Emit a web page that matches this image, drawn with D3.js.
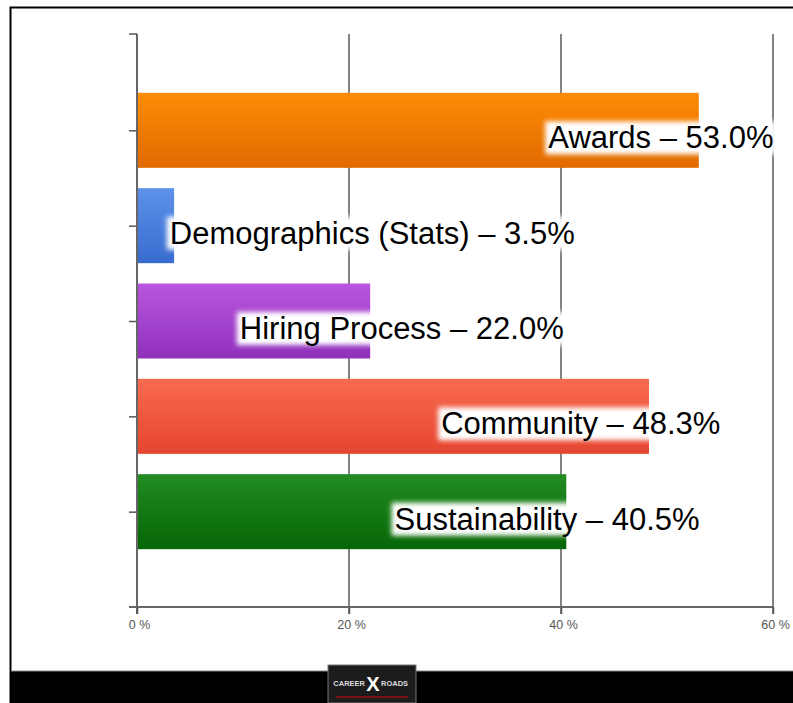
<!DOCTYPE html>
<html>
<head>
<meta charset="utf-8">
<script src="https://cdn.jsdelivr.net/npm/d3@7/dist/d3.min.js"></script>
<style>
  body { margin: 0; background: #fff; }
  svg { display: block; }
</style>
</head>
<body>
<div id="main"></div>
<script>
// data
var categories = ["Awards", "Demographics (Stats)", "Hiring Process", "Community", "Sustainability"];
var values = [53.0, 3.5, 22.0, 48.3, 40.5];
// where each label starts, in % units
var labelStart = [38.8, 3.1, 9.7, 28.7, 24.3];
var xTicks = [0, 20, 40, 60];
var topColors = ["#ff8c05", "#5d92ea", "#b856df", "#f96a50", "#228c22"];
var bottomColors = ["#e06a00", "#386bcf", "#9130bb", "#e5452e", "#056605"];

var width = 793,
    height = 703;

var svg = d3.select("#main").append("svg")
    .attr("width", width)
    .attr("height", height);

var defs = svg.append("defs");

defs.append("filter")
    .attr("id", "glow")
    .attr("x", "-20%").attr("y", "-40%")
    .attr("width", "140%").attr("height", "180%")
    .append("feGaussianBlur")
    .attr("stdDeviation", 2.5);

categories.forEach(function(c, i) {
    var g = defs.append("linearGradient")
        .attr("id", "grad" + i)
        .attr("x1", 0).attr("y1", 0)
        .attr("x2", 0).attr("y2", 1);
    g.append("stop").attr("offset", "0%").attr("stop-color", topColors[i]);
    g.append("stop").attr("offset", "100%").attr("stop-color", bottomColors[i]);
});

// frame
svg.append("rect")
    .attr("x", 10.5).attr("y", 7.5)
    .attr("width", 800).attr("height", 700)
    .attr("fill", "#fff")
    .attr("stroke", "#000")
    .attr("stroke-width", 2);

var x = d3.scaleLinear().domain([0, 60]).range([137, 773]);
var y = d3.scalePoint().domain(categories).range([35, 607]).padding(1);
var barH = 75;

// grid lines
svg.selectAll(".grid")
    .data(xTicks.slice(1))
    .enter().append("line")
    .attr("class", "grid")
    .attr("x1", function(d) { return x(d); })
    .attr("x2", function(d) { return x(d); })
    .attr("y1", 34)
    .attr("y2", 614)
    .attr("stroke", "#5a5a5a")
    .attr("stroke-width", 1.5);

// bars
svg.selectAll(".bar")
    .data(values)
    .enter().append("rect")
    .attr("class", "bar")
    .attr("x", x(0))
    .attr("y", function(d, i) { return y(categories[i]) - barH / 2; })
    .attr("width", function(d) { return x(d) - x(0); })
    .attr("height", barH)
    .attr("fill", function(d, i) { return "url(#grad" + i + ")"; });

// y axis
var yAxis = svg.append("g")
    .attr("transform", "translate(" + x(0) + ",0)")
    .call(d3.axisLeft(y).tickSize(8).tickFormat(""));
yAxis.select(".domain").remove();
yAxis.append("line")
    .attr("x1", 0).attr("x2", 0)
    .attr("y1", 34).attr("y2", 614)
    .attr("stroke", "#666").attr("stroke-width", 2);
yAxis.append("line")
    .attr("x1", -8).attr("x2", 0)
    .attr("y1", 34).attr("y2", 34)
    .attr("stroke", "#555").attr("stroke-width", 1.5);
yAxis.selectAll(".tick line").attr("stroke", "#555").attr("stroke-width", 1.5);

// x axis
var xAxis = svg.append("g")
    .attr("transform", "translate(0,607)")
    .call(d3.axisBottom(x).tickValues(xTicks).tickSize(7)
        .tickFormat(function(d) { return d + " %"; }));
xAxis.select(".domain").remove();
xAxis.append("line")
    .attr("x1", x(0) - 8).attr("x2", x(60))
    .attr("y1", 0).attr("y2", 0)
    .attr("stroke", "#666").attr("stroke-width", 2);
xAxis.selectAll(".tick line").attr("stroke", "#555").attr("stroke-width", 1.5);
xAxis.selectAll(".tick text")
    .attr("y", 13)
    .attr("dx", 2)
    .style("font-family", "Liberation Sans, Arial, sans-serif")
    .style("font-size", "12.5px")
    .attr("fill", "#555");

// labels with white glow
var labels = svg.selectAll(".lbl")
    .data(values)
    .enter().append("g")
    .attr("class", "lbl");

labels.each(function(d, i) {
    var g = d3.select(this);
    var bg = g.append("rect");
    var t = g.append("text")
        .attr("x", x(labelStart[i]))
        .attr("y", y(categories[i]) + 18)
        .style("font-family", "Liberation Sans, Arial, sans-serif")
        .style("font-size", "31px")
        .attr("fill", "#000")
        .text(categories[i] + " \u2013 " + d.toFixed(1) + "%");
    var b = t.node().getBBox();
    bg.attr("x", b.x - 3)
        .attr("y", b.y + 1)
        .attr("width", b.width + 6)
        .attr("height", b.height - 2)
        .attr("fill", "#fff")
        .attr("filter", "url(#glow)");
});

// footer bar
svg.append("rect")
    .attr("x", 11).attr("y", 671)
    .attr("width", 782).attr("height", 32)
    .attr("fill", "#000");
svg.append("line")
    .attr("x1", 11).attr("x2", 793)
    .attr("y1", 671).attr("y2", 671)
    .attr("stroke", "#888").attr("stroke-width", 1);

// logo
var logo = svg.append("g").attr("transform", "translate(328,665)");
logo.append("rect")
    .attr("width", 88).attr("height", 38)
    .attr("fill", "#1c1c1c")
    .attr("stroke", "#777").attr("stroke-width", 1);
logo.append("text")
    .attr("x", 37).attr("y", 21)
    .attr("text-anchor", "end")
    .style("font-family", "Liberation Sans, Arial, sans-serif")
    .style("font-size", "7.5px")
    .style("font-weight", "bold")
    .attr("fill", "#ddd")
    .text("CAREER");
logo.append("text")
    .attr("x", 45).attr("y", 26)
    .attr("text-anchor", "middle")
    .style("font-family", "Liberation Sans, Arial, sans-serif")
    .style("font-size", "20px")
    .style("font-weight", "bold")
    .attr("fill", "#fff")
    .text("X");
logo.append("text")
    .attr("x", 53).attr("y", 21)
    .attr("text-anchor", "start")
    .style("font-family", "Liberation Sans, Arial, sans-serif")
    .style("font-size", "7.5px")
    .style("font-weight", "bold")
    .attr("fill", "#ddd")
    .text("ROADS");
logo.append("rect")
    .attr("x", 8).attr("y", 31)
    .attr("width", 72).attr("height", 2)
    .attr("fill", "#7a1010");
</script>
</body>
</html>
